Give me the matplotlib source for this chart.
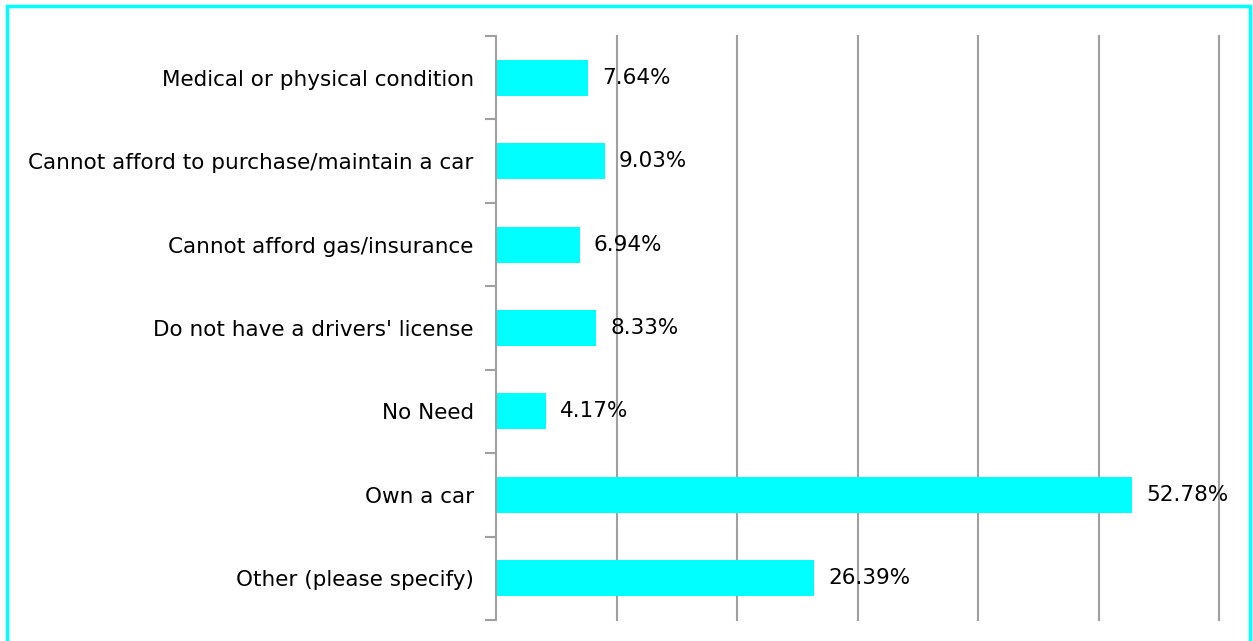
import matplotlib.pyplot as plt
from matplotlib.patches import Rectangle

categories = [
    "Medical or physical condition",
    "Cannot afford to purchase/maintain a car",
    "Cannot afford gas/insurance",
    "Do not have a drivers' license",
    "No Need",
    "Own a car",
    "Other (please specify)",
]
percent = [7.64, 9.03, 6.94, 8.33, 4.17, 52.78, 26.39]

W, H = 1253, 641
fig = plt.figure(figsize=(W / 100, H / 100), dpi=100)
ax = fig.add_axes([496 / W, 1 - 620 / H, (1219 - 496) / W, (620 - 36) / H])

pos = list(range(len(categories)))
ax.barh(pos, percent, height=0.43, color="#00ffff", zorder=2)
ax.set_xlim(0, 60)
ax.set_ylim(len(categories) - 0.5, -0.5)

ax.set_yticks(pos)
ax.set_yticklabels(categories, fontsize=15.5, family="DejaVu Sans")
ax.tick_params(axis="y", which="major", length=0, pad=16)
ax.set_yticks([p - 0.5 for p in pos] + [len(pos) - 0.5], minor=True)
ax.tick_params(axis="y", which="minor", length=8, width=1.5, color="#a0a0a0")

ax.set_xticks([10, 20, 30, 40, 50, 60])
ax.tick_params(axis="x", length=0, labelbottom=False)
ax.grid(axis="x", color="#a0a0a0", linewidth=1.5, zorder=1)
for gl in ax.get_xgridlines():
    gl.set_clip_on(False)

for s in ["top", "right", "bottom"]:
    ax.spines[s].set_visible(False)
ax.spines["left"].set_color("#a0a0a0")
ax.spines["left"].set_linewidth(1.5)

for p, v in zip(pos, percent):
    ax.annotate(f"{v:.2f}%", (v, p), xytext=(14, 0), textcoords="offset pixels",
                va="center", ha="left", fontsize=15.5, zorder=3)

# cyan frame around the figure
fig.patches.append(Rectangle((6.5 / W, -0.05), (1250 - 6.5) / W, 1 - 6.5 / H + 0.05,
                             transform=fig.transFigure, fill=False,
                             edgecolor="#00ffff", linewidth=2.5))

fig.savefig("out.png", dpi=100)
